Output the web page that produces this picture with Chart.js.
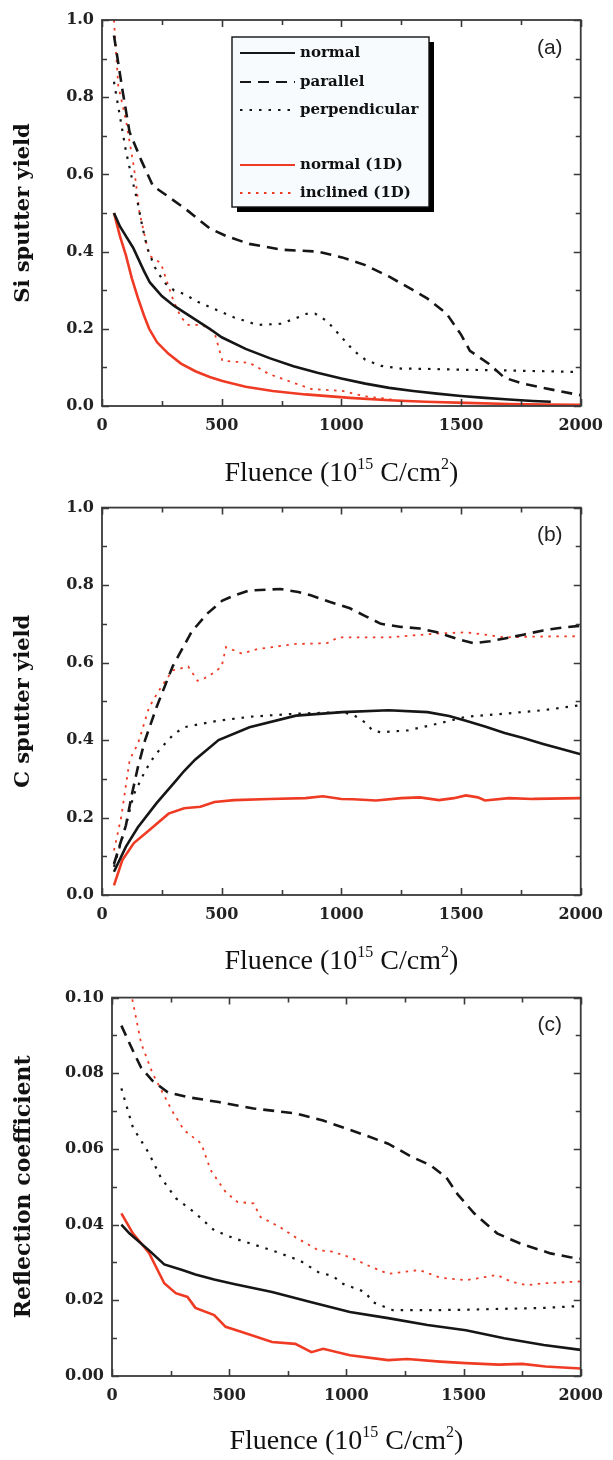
<!DOCTYPE html>
<html>
<head>
<meta charset="utf-8">
<script src="https://cdn.jsdelivr.net/npm/chart.js@4/dist/chart.umd.min.js"></script>
<style>
  html,body{margin:0;padding:0;background:#fff;}
  #wrap{position:relative;width:613px;height:1460px;}
  canvas{position:absolute;left:0;}
</style>
</head>
<body>
<div id="wrap">
  <canvas id="ca" width="613" height="490" style="top:0px"></canvas>
  <canvas id="cb" width="613" height="490" style="top:490px"></canvas>
  <canvas id="cc" width="613" height="480" style="top:980px"></canvas>
</div>
<script>
// ---------- DATA ----------
const seriesNames = ["normal", "parallel", "perpendicular", "normal (1D)", "inclined (1D)"];
const panelLabels = ["(a)", "(b)", "(c)"];
const yTitles = ["Si sputter yield", "C sputter yield", "Reflection coefficient"];
const xTitleParts = ["Fluence (10", "15", " C/cm", "2", ")"];

// Panel (a): Si sputter yield
const aNormalX = [50,75,100,130,175,200,250,300,350,400,450,500,600,700,800,900,1000,1100,1200,1300,1400,1500,1600,1700,1800,1875];
const aNormalY = [0.50,0.465,0.44,0.41,0.35,0.32,0.285,0.26,0.24,0.22,0.20,0.178,0.148,0.124,0.103,0.086,0.071,0.058,0.047,0.039,0.032,0.026,0.021,0.017,0.013,0.011];
const aParallelX = [50,85,115,165,213,260,350,450,520,615,750,900,1003,1100,1200,1300,1360,1440,1500,1537,1617,1682,1760,1843,1973,2000];
const aParallelY = [0.96,0.82,0.71,0.635,0.57,0.55,0.51,0.46,0.44,0.42,0.405,0.40,0.385,0.365,0.335,0.30,0.278,0.239,0.185,0.143,0.109,0.073,0.058,0.047,0.031,0.028];
const aPerpX = [50,75,100,125,148,170,189,220,260,300,343,400,455,550,650,746,800,860,891,940,988,1052,1100,1165,1250,1360,1500,1700,1850,2000];
const aPerpY = [0.84,0.75,0.66,0.59,0.53,0.46,0.41,0.36,0.32,0.30,0.29,0.27,0.255,0.23,0.21,0.213,0.225,0.24,0.239,0.22,0.187,0.143,0.12,0.104,0.097,0.096,0.094,0.092,0.09,0.088];
const aNormal1DX = [50,75,100,125,150,175,197,230,278,330,390,450,503,600,713,850,1036,1200,1350,1520,1700,1850,2000];
const aNormal1DY = [0.50,0.44,0.39,0.33,0.28,0.235,0.20,0.165,0.135,0.11,0.09,0.075,0.065,0.05,0.039,0.03,0.021,0.015,0.011,0.008,0.005,0.004,0.003];
const aIncl1DX = [50,68,100,133,157,197,246,278,300,330,360,419,470,503,616,650,697,800,875,1004,1100,1197,1250];
const aIncl1DY = [1.0,0.83,0.74,0.62,0.50,0.39,0.37,0.31,0.27,0.23,0.21,0.21,0.19,0.117,0.112,0.10,0.083,0.06,0.044,0.039,0.025,0.018,0.012];

// Panel (b): C sputter yield
const bNormalX = [50,100,150,228,310,343,390,487,616,810,1004,1197,1360,1450,1520,1600,1682,1760,1843,1920,2000];
const bNormalY = [0.06,0.125,0.175,0.237,0.296,0.32,0.35,0.40,0.433,0.463,0.472,0.477,0.472,0.462,0.45,0.435,0.418,0.405,0.39,0.377,0.363];
const bParallelX = [50,75,100,125,150,180,228,295,375,441,503,560,616,746,820,875,950,1036,1100,1165,1250,1327,1400,1440,1500,1553,1620,1682,1760,1843,1920,2000];
const bParallelY = [0.08,0.13,0.18,0.26,0.33,0.40,0.485,0.59,0.68,0.727,0.76,0.775,0.786,0.79,0.782,0.773,0.757,0.74,0.72,0.70,0.692,0.688,0.678,0.67,0.658,0.65,0.655,0.662,0.672,0.683,0.69,0.695];
const bPerpX = [50,100,133,180,220,262,300,343,400,487,616,810,1004,1050,1100,1130,1165,1278,1408,1520,1682,1843,2000];
const bPerpY = [0.073,0.18,0.26,0.32,0.36,0.39,0.415,0.433,0.44,0.45,0.46,0.468,0.472,0.465,0.445,0.425,0.42,0.425,0.443,0.46,0.468,0.477,0.49];
const bNormal1DX = [50,85,133,197,278,343,411,470,552,700,850,923,1000,1050,1145,1250,1327,1408,1470,1520,1570,1600,1700,1800,2000];
const bNormal1DY = [0.025,0.09,0.134,0.167,0.21,0.224,0.228,0.24,0.245,0.248,0.25,0.255,0.248,0.247,0.244,0.25,0.252,0.245,0.25,0.257,0.252,0.244,0.25,0.248,0.25];
const bIncl1DX = [50,80,116,150,197,240,295,330,360,399,430,470,500,518,585,650,712,809,940,988,1100,1197,1300,1400,1520,1600,1682,1800,2000];
const bIncl1DY = [0.115,0.2,0.35,0.39,0.485,0.53,0.58,0.585,0.59,0.553,0.56,0.575,0.59,0.64,0.623,0.635,0.64,0.648,0.65,0.665,0.665,0.665,0.67,0.675,0.678,0.672,0.665,0.667,0.668];

// Panel (c): Reflection coefficient
const cNormalX = [40,74,158,223,300,356,436,520,683,851,1015,1178,1346,1510,1673,1842,2000];
const cNormalY = [0.040,0.0377,0.0332,0.0295,0.028,0.0268,0.0255,0.0243,0.0222,0.0195,0.0169,0.0153,0.0135,0.0121,0.010,0.0082,0.0069];
const cParallelX = [40,89,124,173,238,322,455,604,782,901,1064,1178,1277,1361,1426,1475,1545,1643,1742,1871,1955,2000];
const cParallelY = [0.0926,0.086,0.0815,0.078,0.075,0.0737,0.0724,0.0707,0.0694,0.0675,0.064,0.0614,0.058,0.0556,0.0525,0.048,0.043,0.0377,0.035,0.0324,0.0314,0.031];
const cPerpX = [40,89,158,208,272,356,436,520,683,802,881,944,980,1079,1114,1198,1352,1510,1700,1842,2000];
const cPerpY = [0.076,0.0657,0.0588,0.0525,0.047,0.043,0.0385,0.0364,0.0332,0.0305,0.0274,0.0264,0.0245,0.0222,0.0195,0.0174,0.0174,0.0175,0.0178,0.018,0.0185];
const cNormal1DX = [40,89,158,188,223,272,322,356,436,485,554,683,782,851,901,1015,1178,1260,1400,1510,1650,1750,1850,2000];
const cNormal1DY = [0.043,0.0377,0.0325,0.0288,0.0245,0.0219,0.0209,0.018,0.0161,0.013,0.0116,0.009,0.0085,0.0063,0.0072,0.0055,0.0042,0.0045,0.0038,0.0034,0.003,0.0032,0.0025,0.002];
const cIncl1DX = [50,75,95,124,173,257,307,381,421,485,535,604,634,718,782,881,931,1015,1100,1178,1312,1400,1510,1643,1700,1770,1842,2000];
const cIncl1DY = [0.112,0.103,0.097,0.088,0.080,0.070,0.065,0.0614,0.0544,0.0486,0.046,0.0456,0.042,0.0393,0.0367,0.0332,0.033,0.0314,0.029,0.027,0.028,0.026,0.0253,0.0267,0.025,0.024,0.0245,0.025];

// ---------- STYLES ----------
const BLACK = '#161616';
const RED = '#ef3b24';
const styles = [
  {color: BLACK, width: 2.6, dash: []},
  {color: BLACK, width: 2.6, dash: [11, 7]},
  {color: BLACK, width: 2.2, dash: [2.5, 7]},
  {color: RED,   width: 2.6, dash: []},
  {color: RED,   width: 1.8, dash: [2.5, 5.5]}
];

function pts(xs, ys){ return xs.map((x,i)=>({x:x, y:ys[i]})); }

function makeDatasets(list){
  return list.map((pair,i)=>({
    label: seriesNames[i],
    data: pts(pair[0], pair[1]),
    borderColor: styles[i].color,
    borderWidth: styles[i].width,
    borderDash: styles[i].dash,
    pointRadius: 0,
    tension: 0,
    fill: false
  }));
}

const decoPlugin = {
  id: 'deco',
  afterDatasetsDraw(chart){
    const o = chart.options.plugins.deco;
    const ctx = chart.ctx;
    const {left, right, top, bottom} = chart.chartArea;
    const xs = chart.scales.x, ys = chart.scales.y;
    ctx.save();
    ctx.strokeStyle = '#3a3a3a';
    ctx.lineWidth = 1.8;
    ctx.setLineDash([]);
    ctx.strokeRect(left, top, right-left, bottom-top);
    ctx.lineWidth = 1.6;
    ctx.beginPath();
    xs.ticks.forEach(t=>{
      const p = Math.round(xs.getPixelForValue(t.value)) + 0.5;
      const L = (t.label !== '') ? 7 : 5;
      ctx.moveTo(p, bottom); ctx.lineTo(p, bottom - L);
      ctx.moveTo(p, top); ctx.lineTo(p, top + L);
    });
    ys.ticks.forEach(t=>{
      const p = Math.round(ys.getPixelForValue(t.value)) + 0.5;
      const L = (t.label !== '') ? 7 : 5;
      ctx.moveTo(left, p); ctx.lineTo(left + L, p);
      ctx.moveTo(right, p); ctx.lineTo(right - L, p);
    });
    ctx.stroke();

    ctx.fillStyle = '#222';
    ctx.font = '21px "Liberation Sans", Arial, sans-serif';
    ctx.textAlign = 'center';
    ctx.textBaseline = 'middle';
    ctx.fillText(o.label, right - 31, top + 28);

    const big = '28px "Liberation Serif", "Times New Roman", serif';
    const small = '16px "Liberation Serif", "Times New Roman", serif';
    ctx.fillStyle = '#111';
    ctx.textAlign = 'left';
    ctx.textBaseline = 'alphabetic';
    const fonts = [big, small, big, small, big];
    const rise = [0, -12, 0, -12, 0];
    let w = 0;
    const widths = xTitleParts.map((s,i)=>{ ctx.font = fonts[i]; const m = ctx.measureText(s).width; w += m; return m; });
    let cx = (left + right)/2 - w/2;
    const base = bottom + o.titleBase;
    xTitleParts.forEach((s,i)=>{ ctx.font = fonts[i]; ctx.fillText(s, cx, base + rise[i]); cx += widths[i]; });

    if (o.legend){
      const l = left + 130, t = top + 17, r = left + 327, b = top + 187;
      ctx.fillStyle = '#000';
      ctx.fillRect(l + 5, t + 5, r - l, b - t);
      ctx.fillStyle = '#f7fbfe';
      ctx.fillRect(l, t, r - l, b - t);
      ctx.strokeStyle = '#111';
      ctx.lineWidth = 1.4;
      ctx.strokeRect(l, t, r - l, b - t);
      const rows = [16, 45, 73, 128, 156];
      ctx.font = 'bold 15px "DejaVu Serif", serif';
      ctx.textBaseline = 'middle';
      chart.data.datasets.forEach((ds,i)=>{
        const yy = t + rows[i];
        ctx.strokeStyle = ds.borderColor;
        ctx.lineWidth = Math.min(ds.borderWidth, 2);
        ctx.setLineDash(ds.borderDash);
        ctx.beginPath(); ctx.moveTo(l + 8, yy); ctx.lineTo(l + 63, yy); ctx.stroke();
        ctx.setLineDash([]);
        ctx.fillStyle = '#111';
        ctx.fillText(ds.label, l + 68, yy);
      });
    }
    ctx.restore();
  }
};

function makeChart(id, datasets, cfg){
  return new Chart(document.getElementById(id), {
    type: 'line',
    data: {datasets: datasets},
    plugins: [decoPlugin],
    options: {
      responsive: false,
      animation: false,
      devicePixelRatio: 1,
      layout: {padding: {top: cfg.padTop, right: cfg.padRight, left: 0, bottom: 0}},
      plugins: {
        legend: {display: false},
        tooltip: {enabled: false},
        deco: {label: cfg.label, legend: cfg.legend, titleBase: cfg.titleBase}
      },
      scales: {
        x: {
          type: 'linear', min: 0, max: 2000,
          grid: {display: false, drawTicks: false},
          border: {display: false},
          afterFit: s => { s.height = cfg.xHeight; },
          ticks: {
            stepSize: 250, autoSkip: false, maxRotation: 0, padding: 10,
            color: '#222',
            font: {family: '"DejaVu Serif", serif', weight: 'bold', size: 16},
            callback: v => (v % 500 === 0) ? String(v) : ''
          }
        },
        y: {
          type: 'linear', min: 0, max: cfg.yMax,
          grid: {display: false, drawTicks: false},
          border: {display: false},
          afterFit: s => { s.width = cfg.yWidth; },
          title: {
            display: true, text: cfg.yTitle, color: '#111',
            font: {family: '"DejaVu Serif", serif', weight: 'bold', size: cfg.yTitleSize},
            padding: {top: 11, bottom: 0}
          },
          ticks: {
            stepSize: cfg.yStep, autoSkip: false, padding: 8,
            color: '#222',
            font: {family: '"DejaVu Serif", serif', weight: 'bold', size: 16},
            callback: v => {
              const k = Math.round(v / cfg.yStep);
              return (k % 2 === 0) ? v.toFixed(cfg.dec) : '';
            }
          }
        }
      }
    }
  });
}

makeChart('ca', makeDatasets([[aNormalX,aNormalY],[aParallelX,aParallelY],[aPerpX,aPerpY],[aNormal1DX,aNormal1DY],[aIncl1DX,aIncl1DY]]),
  {label: panelLabels[0], legend: true, yTitle: yTitles[0], yTitleSize: 21, yMax: 1.0, yStep: 0.1, dec: 1,
   padTop: 20, padRight: 27, yWidth: 102, xHeight: 84, titleBase: 75});
makeChart('cb', makeDatasets([[bNormalX,bNormalY],[bParallelX,bParallelY],[bPerpX,bPerpY],[bNormal1DX,bNormal1DY],[bIncl1DX,bIncl1DY]]),
  {label: panelLabels[1], legend: false, yTitle: yTitles[1], yTitleSize: 21, yMax: 1.0, yStep: 0.1, dec: 1,
   padTop: 17, padRight: 27, yWidth: 102, xHeight: 85, titleBase: 74});
makeChart('cc', makeDatasets([[cNormalX,cNormalY],[cParallelX,cParallelY],[cPerpX,cPerpY],[cNormal1DX,cNormal1DY],[cIncl1DX,cIncl1DY]]),
  {label: panelLabels[2], legend: false, yTitle: yTitles[2], yTitleSize: 22, yMax: 0.1, yStep: 0.01, dec: 2,
   padTop: 17, padRight: 26, yWidth: 112, xHeight: 84, titleBase: 73});
</script>
</body>
</html>
